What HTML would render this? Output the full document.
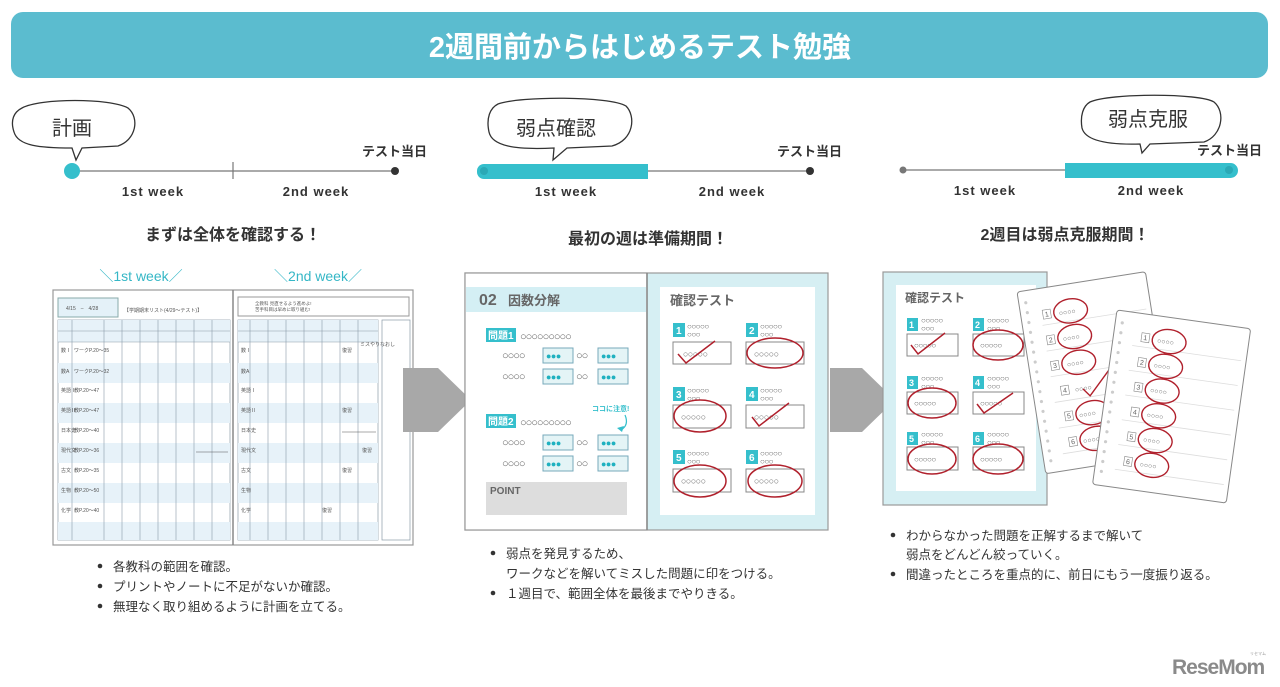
<!DOCTYPE html>
<html><head><meta charset="utf-8"><style>
html,body{margin:0;padding:0;background:#fff;}
svg{display:block;font-family:"Liberation Sans","Noto Sans CJK JP",sans-serif;}
</style></head><body>
<svg width="1280" height="687" viewBox="0 0 1280 687" xmlns="http://www.w3.org/2000/svg">
<rect x="11" y="12" width="1257" height="66" rx="12" fill="#5bbccf"/>
<text x="640" y="57" text-anchor="middle" font-size="29" font-weight="bold" fill="#fff">2週間前からはじめるテスト勉強</text>

<path d="M22,108 C40,98 110,98 128,108 C140,118 136,140 118,146 L82,148 L76,160 L72,148 C40,148 18,146 14,132 C10,120 14,112 22,108 Z" fill="#fff" stroke="#333" stroke-width="1.3"/>
<text x="52" y="135" font-size="20" fill="#333">計画</text>
<line x1="72" y1="171" x2="395" y2="171" stroke="#777" stroke-width="1.3"/>
<line x1="233" y1="162" x2="233" y2="179" stroke="#777" stroke-width="1.2"/>
<circle cx="72" cy="171" r="8" fill="#35bfcc"/>
<circle cx="395" cy="171" r="4" fill="#333"/>
<text x="427" y="156" text-anchor="end" font-size="13" fill="#333" font-weight="bold">テスト当日</text>
<text x="153" y="196" text-anchor="middle" font-size="13" fill="#333" font-weight="bold" letter-spacing="1">1st week</text>
<text x="316" y="196" text-anchor="middle" font-size="13" fill="#333" font-weight="bold" letter-spacing="1">2nd week</text>
<text x="233" y="240" text-anchor="middle" font-size="16" font-weight="bold" fill="#333">まずは全体を確認する！</text>
<text x="141" y="281" text-anchor="middle" font-size="14" fill="#35b7c6">＼1st week／</text>
<text x="318" y="281" text-anchor="middle" font-size="14" fill="#35b7c6">＼2nd week／</text>

<rect x="53" y="290" width="360" height="255" fill="#fff" stroke="#999" stroke-width="1.2"/>
<line x1="233" y1="290" x2="233" y2="545" stroke="#888" stroke-width="1.5"/>
<rect x="58" y="298" width="60" height="19" fill="#e4f1f8" stroke="#8aa"/>
<text x="66" y="310" font-size="5" fill="#555">4/15　–　4/28</text>
<text x="124" y="312" font-size="5" fill="#555">【学期期末リスト(4/29～テスト)】</text>
<rect x="238" y="297" width="171" height="19" fill="#fff" stroke="#999"/>
<text x="255" y="305" font-size="4.5" fill="#555">全教科 見直せるよう進めよ!</text>
<text x="255" y="311" font-size="4.5" fill="#555">苦手科目は早めに取り組む!</text>
<g stroke="#8a9aa8" stroke-width="0.7" fill="none">
<rect x="58" y="320" width="172" height="220"/>
<rect x="238" y="320" width="140" height="220"/>
<rect x="382" y="320" width="28" height="220"/>
</g>
<g fill="#e7f2f9">
<rect x="58" y="320" width="172" height="22"/><rect x="238" y="320" width="140" height="22"/>
<rect x="58" y="363" width="172" height="20"/><rect x="238" y="363" width="140" height="20"/>
<rect x="58" y="403" width="172" height="20"/><rect x="238" y="403" width="140" height="20"/>
<rect x="58" y="443" width="172" height="20"/><rect x="238" y="443" width="140" height="20"/>
<rect x="58" y="483" width="172" height="20"/><rect x="238" y="483" width="140" height="20"/>
<rect x="58" y="522" width="172" height="18"/><rect x="238" y="522" width="140" height="18"/>
</g>
<g stroke="#8a9aa8" stroke-width="0.6">
<line x1="58" y1="331" x2="230" y2="331"/><line x1="58" y1="342" x2="230" y2="342"/>
<line x1="238" y1="331" x2="378" y2="331"/><line x1="238" y1="342" x2="378" y2="342"/>
<line x1="72" y1="320" x2="72" y2="540"/><line x1="104" y1="320" x2="104" y2="540"/>
<line x1="122" y1="320" x2="122" y2="540"/><line x1="140" y1="320" x2="140" y2="540"/>
<line x1="158" y1="320" x2="158" y2="540"/><line x1="176" y1="320" x2="176" y2="540"/>
<line x1="194" y1="320" x2="194" y2="540"/><line x1="212" y1="320" x2="212" y2="540"/>
<line x1="250" y1="320" x2="250" y2="540"/><line x1="268" y1="320" x2="268" y2="540"/>
<line x1="286" y1="320" x2="286" y2="540"/><line x1="304" y1="320" x2="304" y2="540"/>
<line x1="322" y1="320" x2="322" y2="540"/><line x1="340" y1="320" x2="340" y2="540"/>
<line x1="358" y1="320" x2="358" y2="540"/>
</g>
<g font-size="5" fill="#555">
<text x="61" y="352">数Ⅰ</text><text x="61" y="373">数A</text><text x="61" y="392">英語Ⅰ</text><text x="61" y="412">英語Ⅱ</text>
<text x="61" y="432">日本史</text><text x="61" y="452">現代文</text><text x="61" y="472">古文</text><text x="61" y="492">生物</text><text x="61" y="512">化学</text>
<text x="74" y="352">ワークP.20～35</text><text x="74" y="373">ワークP.20～32</text><text x="74" y="392">教P.20～47</text><text x="74" y="412">教P.20～47</text>
<text x="74" y="432">教P.20～40</text><text x="74" y="452">教P.20～36</text><text x="74" y="472">教P.20～35</text><text x="74" y="492">教P.20～50</text><text x="74" y="512">教P.20～40</text>
<text x="241" y="352">数Ⅰ</text><text x="241" y="373">数A</text><text x="241" y="392">英語Ⅰ</text><text x="241" y="412">英語Ⅱ</text>
<text x="241" y="432">日本史</text><text x="241" y="452">現代文</text><text x="241" y="472">古文</text><text x="241" y="492">生物</text><text x="241" y="512">化学</text>
<text x="342" y="352">復習</text><text x="342" y="412">復習</text><text x="362" y="452">復習</text><text x="342" y="472">復習</text><text x="322" y="512">復習</text>
<text x="360" y="346">ミスやりなおし</text>
</g>
<line x1="196" y1="452" x2="228" y2="452" stroke="#555" stroke-width="0.6"/>
<line x1="342" y1="432" x2="376" y2="432" stroke="#555" stroke-width="0.6"/>

<path d="M403,368 L438,368 L471,400 L438,432 L403,432 Z" fill="#a8a8a8"/>
<path d="M830,368 L862,368 L895,400 L862,432 L830,432 Z" fill="#a8a8a8"/>

<g font-size="12.5" fill="#333">
<circle cx="100" cy="566" r="2.3" fill="#333"/><text x="113" y="571">各教科の範囲を確認。</text>
<circle cx="100" cy="586" r="2.3" fill="#333"/><text x="113" y="591">プリントやノートに不足がないか確認。</text>
<circle cx="100" cy="606" r="2.3" fill="#333"/><text x="113" y="611">無理なく取り組めるように計画を立てる。</text>
</g>

<path d="M498,104 C520,96 610,96 626,106 C636,116 634,140 612,146 L567,148 L553,160 L554,148 C515,150 492,146 489,132 C486,118 490,108 498,104 Z" fill="#fff" stroke="#333" stroke-width="1.3"/>
<text x="516" y="135" font-size="20" fill="#333">弱点確認</text>
<line x1="478" y1="171" x2="810" y2="171" stroke="#777" stroke-width="1.3"/>
<rect x="477" y="164" width="171" height="15" rx="7" fill="#35bfcc"/>
<rect x="640" y="164" width="8" height="15" fill="#35bfcc"/>
<circle cx="484" cy="171" r="4" fill="#2aa9b6"/>
<circle cx="810" cy="171" r="4" fill="#333"/>
<text x="842" y="156" text-anchor="end" font-size="13" fill="#333" font-weight="bold">テスト当日</text>
<text x="566" y="196" text-anchor="middle" font-size="13" fill="#333" font-weight="bold" letter-spacing="1">1st week</text>
<text x="732" y="196" text-anchor="middle" font-size="13" fill="#333" font-weight="bold" letter-spacing="1">2nd week</text>
<text x="648" y="244" text-anchor="middle" font-size="16" font-weight="bold" fill="#333">最初の週は準備期間！</text>

<rect x="465" y="273" width="363" height="257" fill="#d6eff3" stroke="#999" stroke-width="1.2"/>
<rect x="465" y="273" width="182" height="257" fill="#fff" stroke="#999" stroke-width="1.2"/>
<line x1="647" y1="273" x2="647" y2="530" stroke="#888" stroke-width="1.5"/>
<rect x="466" y="287" width="180" height="25" fill="#d4eff4"/>
<text x="479" y="305" font-size="16" font-weight="bold" fill="#666">02</text>
<text x="508" y="305" font-size="13" font-weight="bold" fill="#666">因数分解</text>
<rect x="486" y="328" width="30" height="14" fill="#35bfcc"/><text x="488" y="339" font-size="10" fill="#fff" font-weight="bold">問題1</text>
<text x="520" y="340" font-size="11" fill="#666" letter-spacing="-1">○○○○○○○○○</text>
<g font-size="11" fill="#666" letter-spacing="-1">
<text x="502" y="359">○○○○</text><text x="576" y="359">○○</text>
<text x="502" y="380">○○○○</text><text x="576" y="380">○○</text>
<text x="520" y="426">○○○○○○○○○</text>
<text x="502" y="446">○○○○</text><text x="576" y="446">○○</text>
<text x="502" y="467">○○○○</text><text x="576" y="467">○○</text>
</g>
<g fill="#e4f4f6" stroke="#7ab">
<rect x="543" y="348" width="30" height="15"/><rect x="598" y="348" width="30" height="15"/>
<rect x="543" y="369" width="30" height="15"/><rect x="598" y="369" width="30" height="15"/>
<rect x="543" y="435" width="30" height="15"/><rect x="598" y="435" width="30" height="15"/>
<rect x="543" y="456" width="30" height="15"/><rect x="598" y="456" width="30" height="15"/>
</g>
<g font-size="9" fill="#1fb1c0" letter-spacing="-0.5">
<text x="546" y="359">●●●</text><text x="601" y="359">●●●</text>
<text x="546" y="380">●●●</text><text x="601" y="380">●●●</text>
<text x="546" y="446">●●●</text><text x="601" y="446">●●●</text>
<text x="546" y="467">●●●</text><text x="601" y="467">●●●</text>
</g>
<rect x="486" y="414" width="30" height="14" fill="#35bfcc"/><text x="488" y="425" font-size="10" fill="#fff" font-weight="bold">問題2</text>
<text x="592" y="411" font-size="7" fill="#35bfcc" font-weight="bold">ココに注意!</text>
<path d="M625,415 C628,422 626,427 621,430" stroke="#35bfcc" stroke-width="1.2" fill="none"/>
<path d="M617,428 L622,432 L624,426" fill="#35bfcc"/>
<rect x="486" y="482" width="141" height="33" fill="#ddd"/>
<text x="490" y="494" font-size="10" fill="#666" font-weight="bold">POINT</text>

<rect x="660" y="287" width="155" height="228" fill="#fff"/>
<text x="670" y="305" font-size="13" font-weight="bold" fill="#666">確認テスト</text>
<g font-size="8" fill="#666" letter-spacing="-0.5">
<rect x="673" y="323" width="12" height="14" fill="#35bfcc"/><text x="676" y="334" fill="#fff" font-size="10" font-weight="bold">1</text>
<text x="687" y="329">○○○○○</text><text x="687" y="337">○○○</text>
<rect x="673" y="342" width="58" height="22" fill="#fff" stroke="#888"/><text x="683" y="357" font-size="9">○○○○○</text>
<rect x="746" y="323" width="12" height="14" fill="#35bfcc"/><text x="749" y="334" fill="#fff" font-size="10" font-weight="bold">2</text>
<text x="760" y="329">○○○○○</text><text x="760" y="337">○○○</text>
<rect x="746" y="342" width="58" height="22" fill="#fff" stroke="#888"/><text x="754" y="357" font-size="9">○○○○○</text>
<rect x="673" y="387" width="12" height="14" fill="#35bfcc"/><text x="676" y="398" fill="#fff" font-size="10" font-weight="bold">3</text>
<text x="687" y="393">○○○○○</text><text x="687" y="401">○○○</text>
<rect x="673" y="405" width="58" height="23" fill="#fff" stroke="#888"/><text x="681" y="420" font-size="9">○○○○○</text>
<rect x="746" y="387" width="12" height="14" fill="#35bfcc"/><text x="749" y="398" fill="#fff" font-size="10" font-weight="bold">4</text>
<text x="760" y="393">○○○○○</text><text x="760" y="401">○○○</text>
<rect x="746" y="405" width="58" height="23" fill="#fff" stroke="#888"/><text x="754" y="420" font-size="9">○○○○○</text>
<rect x="673" y="450" width="12" height="14" fill="#35bfcc"/><text x="676" y="461" fill="#fff" font-size="10" font-weight="bold">5</text>
<text x="687" y="456">○○○○○</text><text x="687" y="464">○○○</text>
<rect x="673" y="469" width="58" height="23" fill="#fff" stroke="#888"/><text x="681" y="484" font-size="9">○○○○○</text>
<rect x="746" y="450" width="12" height="14" fill="#35bfcc"/><text x="749" y="461" fill="#fff" font-size="10" font-weight="bold">6</text>
<text x="760" y="456">○○○○○</text><text x="760" y="464">○○○</text>
<rect x="746" y="469" width="58" height="23" fill="#fff" stroke="#888"/><text x="754" y="484" font-size="9">○○○○○</text>
</g>
<g stroke="#b0202c" stroke-width="1.5" fill="none">
<path d="M678,354 L686,363 L715,341"/>
<ellipse cx="775" cy="353" rx="28" ry="15"/>
<ellipse cx="700" cy="416" rx="26" ry="16"/>
<path d="M752,417 L759,426 L789,403"/>
<ellipse cx="700" cy="481" rx="26" ry="16"/>
<ellipse cx="775" cy="481" rx="27" ry="16"/>
</g>

<g font-size="12.5" fill="#333">
<circle cx="493" cy="553" r="2.3" fill="#333"/><text x="506" y="558">弱点を発見するため、</text>
<text x="506" y="578">ワークなどを解いてミスした問題に印をつける。</text>
<circle cx="493" cy="593" r="2.3" fill="#333"/><text x="506" y="598">１週目で、範囲全体を最後までやりきる。</text>
</g>

<path d="M1090,102 C1110,93 1200,93 1214,102 C1226,112 1222,136 1204,142 L1150,144 L1142,153 L1140,144 C1105,145 1085,140 1082,128 C1080,116 1083,106 1090,102 Z" fill="#fff" stroke="#333" stroke-width="1.3"/>
<text x="1108" y="126" font-size="20" fill="#333">弱点克服</text>
<line x1="903" y1="170" x2="1230" y2="170" stroke="#777" stroke-width="1.3"/>
<circle cx="903" cy="170" r="3.5" fill="#777"/>
<rect x="1065" y="163" width="173" height="15" rx="7.5" fill="#35bfcc"/>
<rect x="1065" y="163" width="10" height="15" fill="#35bfcc"/>
<circle cx="1229" cy="170" r="4" fill="#2aa9b6"/>
<text x="1262" y="155" text-anchor="end" font-size="13" fill="#333" font-weight="bold">テスト当日</text>
<text x="985" y="195" text-anchor="middle" font-size="13" fill="#333" font-weight="bold" letter-spacing="1">1st week</text>
<text x="1151" y="195" text-anchor="middle" font-size="13" fill="#333" font-weight="bold" letter-spacing="1">2nd week</text>
<text x="1065" y="240" text-anchor="middle" font-size="16" font-weight="bold" fill="#333">2週目は弱点克服期間！</text>

<rect x="883" y="272" width="164" height="233" fill="#d6eff3" stroke="#999" stroke-width="1.2"/>
<rect x="896" y="285" width="140" height="206" fill="#fff"/>
<text x="905" y="302" font-size="12" font-weight="bold" fill="#666">確認テスト</text>
<g font-size="8" fill="#666" letter-spacing="-0.5">
<rect x="907" y="318" width="11" height="13" fill="#35bfcc"/><text x="909" y="328" fill="#fff" font-size="9" font-weight="bold">1</text>
<text x="921" y="323">○○○○○</text><text x="921" y="331">○○○</text>
<rect x="907" y="334" width="51" height="22" fill="#fff" stroke="#888"/><text x="914" y="348" font-size="8">○○○○○</text>
<rect x="973" y="318" width="11" height="13" fill="#35bfcc"/><text x="975" y="328" fill="#fff" font-size="9" font-weight="bold">2</text>
<text x="987" y="323">○○○○○</text><text x="987" y="331">○○○</text>
<rect x="973" y="334" width="51" height="22" fill="#fff" stroke="#888"/><text x="980" y="348" font-size="8">○○○○○</text>
<rect x="907" y="376" width="11" height="13" fill="#35bfcc"/><text x="909" y="386" fill="#fff" font-size="9" font-weight="bold">3</text>
<text x="921" y="381">○○○○○</text><text x="921" y="389">○○○</text>
<rect x="907" y="392" width="51" height="22" fill="#fff" stroke="#888"/><text x="914" y="406" font-size="8">○○○○○</text>
<rect x="973" y="376" width="11" height="13" fill="#35bfcc"/><text x="975" y="386" fill="#fff" font-size="9" font-weight="bold">4</text>
<text x="987" y="381">○○○○○</text><text x="987" y="389">○○○</text>
<rect x="973" y="392" width="51" height="22" fill="#fff" stroke="#888"/><text x="980" y="406" font-size="8">○○○○○</text>
<rect x="907" y="432" width="11" height="13" fill="#35bfcc"/><text x="909" y="442" fill="#fff" font-size="9" font-weight="bold">5</text>
<text x="921" y="437">○○○○○</text><text x="921" y="445">○○○</text>
<rect x="907" y="447" width="51" height="23" fill="#fff" stroke="#888"/><text x="914" y="462" font-size="8">○○○○○</text>
<rect x="973" y="432" width="11" height="13" fill="#35bfcc"/><text x="975" y="442" fill="#fff" font-size="9" font-weight="bold">6</text>
<text x="987" y="437">○○○○○</text><text x="987" y="445">○○○</text>
<rect x="973" y="447" width="51" height="23" fill="#fff" stroke="#888"/><text x="980" y="462" font-size="8">○○○○○</text>
</g>
<g stroke="#b0202c" stroke-width="1.5" fill="none">
<path d="M911,345 L918,354 L945,333"/>
<ellipse cx="998" cy="345" rx="25" ry="15"/>
<ellipse cx="932" cy="403" rx="24" ry="15"/>
<path d="M977,404 L984,413 L1013,393"/>
<ellipse cx="932" cy="459" rx="24" ry="15"/>
<ellipse cx="998" cy="459" rx="25" ry="15"/>
</g>

<g transform="translate(1017,292) rotate(-9)">
<rect x="0" y="0" width="130" height="184" rx="3" fill="#fff" stroke="#888" stroke-width="1"/>
<g fill="#ccc"><circle cx="7" cy="12" r="1.6"/><circle cx="7" cy="22" r="1.6"/><circle cx="7" cy="32" r="1.6"/><circle cx="7" cy="42" r="1.6"/><circle cx="7" cy="52" r="1.6"/><circle cx="7" cy="62" r="1.6"/><circle cx="7" cy="72" r="1.6"/><circle cx="7" cy="82" r="1.6"/><circle cx="7" cy="92" r="1.6"/><circle cx="7" cy="102" r="1.6"/><circle cx="7" cy="112" r="1.6"/><circle cx="7" cy="122" r="1.6"/><circle cx="7" cy="132" r="1.6"/><circle cx="7" cy="142" r="1.6"/><circle cx="7" cy="152" r="1.6"/><circle cx="7" cy="162" r="1.6"/><circle cx="7" cy="172" r="1.6"/></g>
<g stroke="#ddd" stroke-width="0.8"><line x1="20" y1="37" x2="125" y2="37"/><line x1="20" y1="63" x2="125" y2="63"/><line x1="20" y1="89" x2="125" y2="89"/><line x1="20" y1="115" x2="125" y2="115"/><line x1="20" y1="141" x2="125" y2="141"/><line x1="20" y1="167" x2="125" y2="167"/></g>
<g font-size="7" fill="#666"><rect x="22" y="22" width="8" height="9" fill="#fff" stroke="#888" stroke-width="0.6"/><text x="24" y="29">1</text><text x="38" y="30">○○○○</text>
<rect x="22" y="48" width="8" height="9" fill="#fff" stroke="#888" stroke-width="0.6"/><text x="24" y="55">2</text><text x="38" y="56">○○○○</text>
<rect x="22" y="74" width="8" height="9" fill="#fff" stroke="#888" stroke-width="0.6"/><text x="24" y="81">3</text><text x="38" y="82">○○○○</text>
<rect x="28" y="100" width="8" height="9" fill="#fff" stroke="#888" stroke-width="0.6"/><text x="30" y="107">4</text><text x="42" y="108">○○○○</text>
<rect x="28" y="126" width="8" height="9" fill="#fff" stroke="#888" stroke-width="0.6"/><text x="30" y="133">5</text><text x="42" y="134">○○○○</text>
<rect x="28" y="152" width="8" height="9" fill="#fff" stroke="#888" stroke-width="0.6"/><text x="30" y="159">6</text><text x="42" y="160">○○○○</text></g>
<g stroke="#b0202c" stroke-width="1.4" fill="none"><ellipse cx="50" cy="27" rx="17" ry="12"/><ellipse cx="50" cy="53" rx="17" ry="12"/><ellipse cx="50" cy="79" rx="17" ry="12"/><path d="M50,106 L56,114 L78,92"/><ellipse cx="56" cy="131" rx="17" ry="12"/><ellipse cx="56" cy="157" rx="17" ry="12"/></g>
</g>
<g transform="translate(1117,310) rotate(8)">
<rect x="0" y="0" width="135" height="176" rx="3" fill="#fff" stroke="#888" stroke-width="1"/>
<g fill="#ccc"><circle cx="7" cy="12" r="1.6"/><circle cx="7" cy="22" r="1.6"/><circle cx="7" cy="32" r="1.6"/><circle cx="7" cy="42" r="1.6"/><circle cx="7" cy="52" r="1.6"/><circle cx="7" cy="62" r="1.6"/><circle cx="7" cy="72" r="1.6"/><circle cx="7" cy="82" r="1.6"/><circle cx="7" cy="92" r="1.6"/><circle cx="7" cy="102" r="1.6"/><circle cx="7" cy="112" r="1.6"/><circle cx="7" cy="122" r="1.6"/><circle cx="7" cy="132" r="1.6"/><circle cx="7" cy="142" r="1.6"/><circle cx="7" cy="152" r="1.6"/><circle cx="7" cy="162" r="1.6"/></g>
<g stroke="#ddd" stroke-width="0.8"><line x1="20" y1="33" x2="130" y2="33"/><line x1="20" y1="58" x2="130" y2="58"/><line x1="20" y1="83" x2="130" y2="83"/><line x1="20" y1="108" x2="130" y2="108"/><line x1="20" y1="133" x2="130" y2="133"/><line x1="20" y1="158" x2="130" y2="158"/></g>
<g font-size="7" fill="#666"><rect x="28" y="19" width="8" height="9" fill="#fff" stroke="#888" stroke-width="0.6"/><text x="30" y="26">1</text><text x="44" y="27">○○○○</text>
<rect x="28" y="44" width="8" height="9" fill="#fff" stroke="#888" stroke-width="0.6"/><text x="30" y="51">2</text><text x="44" y="52">○○○○</text>
<rect x="28" y="69" width="8" height="9" fill="#fff" stroke="#888" stroke-width="0.6"/><text x="30" y="76">3</text><text x="44" y="77">○○○○</text>
<rect x="28" y="94" width="8" height="9" fill="#fff" stroke="#888" stroke-width="0.6"/><text x="30" y="101">4</text><text x="44" y="102">○○○○</text>
<rect x="28" y="119" width="8" height="9" fill="#fff" stroke="#888" stroke-width="0.6"/><text x="30" y="126">5</text><text x="44" y="127">○○○○</text>
<rect x="28" y="144" width="8" height="9" fill="#fff" stroke="#888" stroke-width="0.6"/><text x="30" y="151">6</text><text x="44" y="152">○○○○</text></g>
<g stroke="#b0202c" stroke-width="1.4" fill="none"><ellipse cx="56" cy="24" rx="17" ry="12"/><ellipse cx="56" cy="49" rx="17" ry="12"/><ellipse cx="56" cy="74" rx="17" ry="12"/><ellipse cx="56" cy="99" rx="17" ry="12"/><ellipse cx="56" cy="124" rx="17" ry="12"/><ellipse cx="56" cy="149" rx="17" ry="12"/></g>
</g>

<g font-size="12.5" fill="#333">
<circle cx="893" cy="535" r="2.3" fill="#333"/><text x="906" y="540">わからなかった問題を正解するまで解いて</text>
<text x="906" y="559">弱点をどんどん絞っていく。</text>
<circle cx="893" cy="574" r="2.3" fill="#333"/><text x="906" y="579">間違ったところを重点的に、前日にもう一度振り返る。</text>
</g>

<text x="1172" y="674" font-size="21" font-weight="bold" fill="#8a8a8a" letter-spacing="-1">ReseMom</text>
<text x="1250" y="655" font-size="4" fill="#999">リセマム</text>
</svg>
</body></html>
